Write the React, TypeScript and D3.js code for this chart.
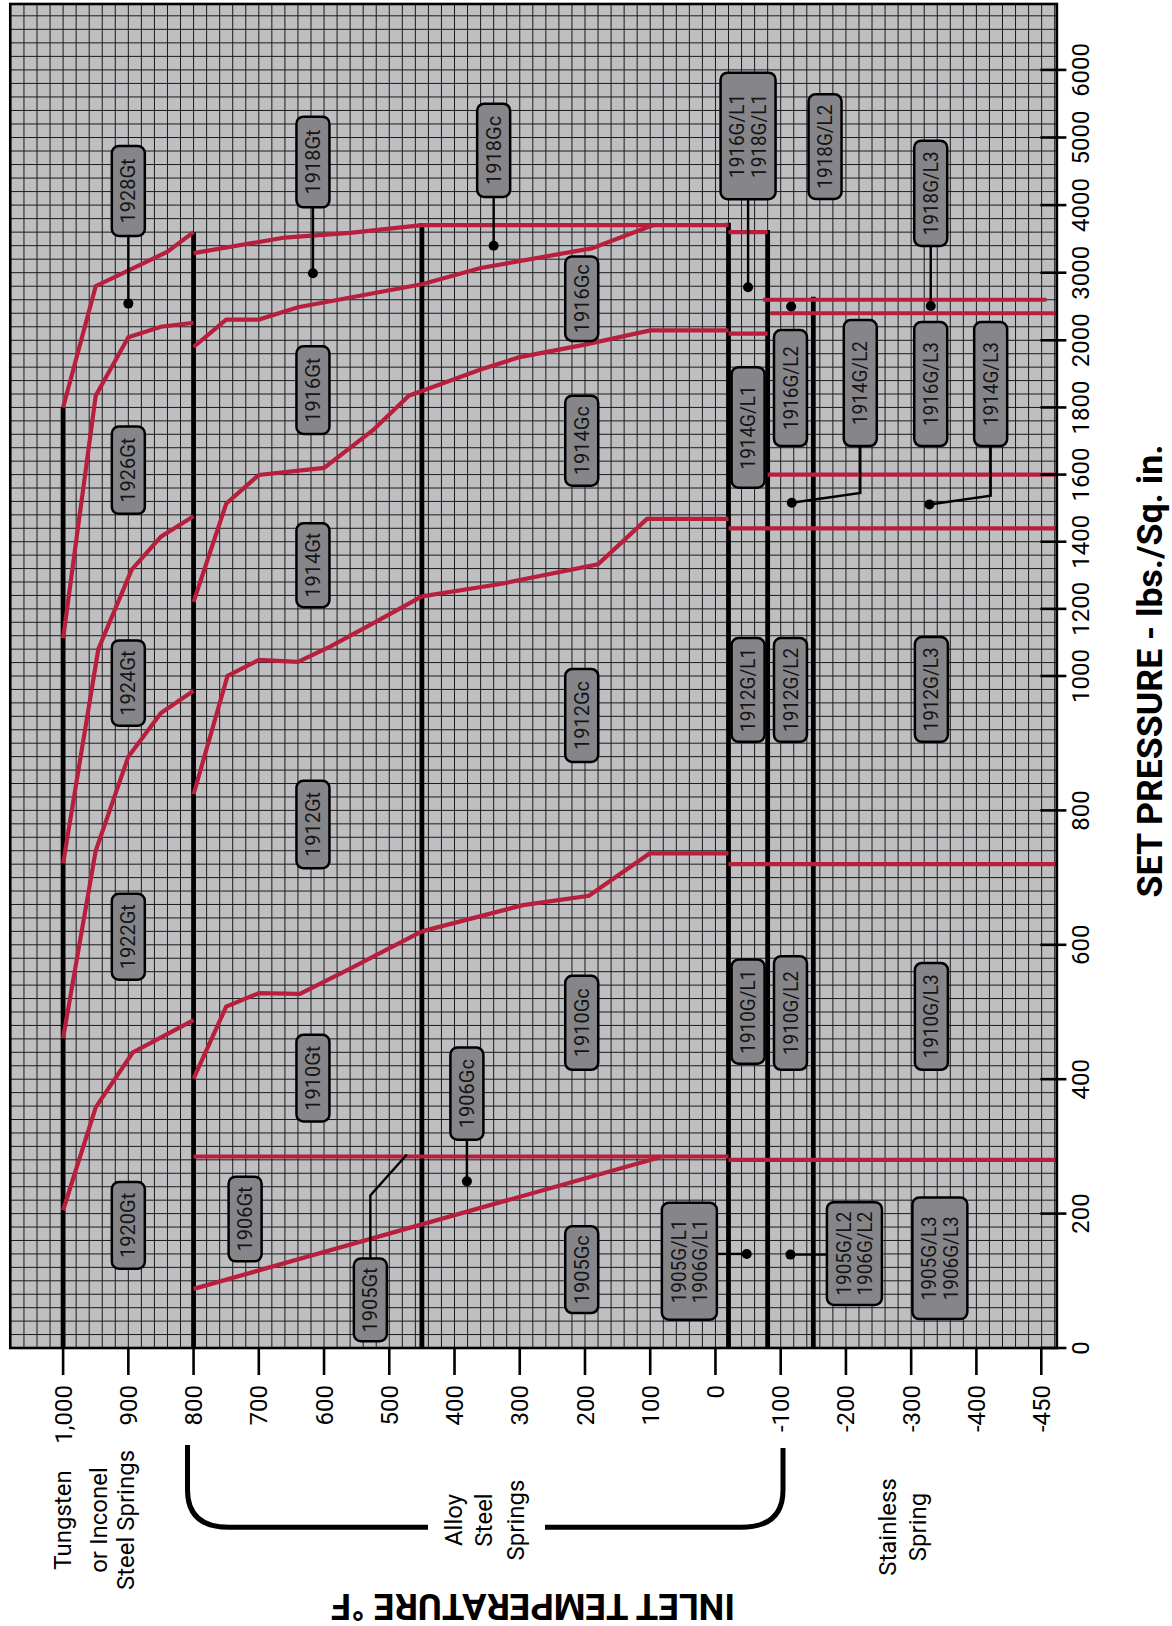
import React from "react";
import * as d3 from "d3";

// ---------- axis values ----------
const tempTicks = [1000, 900, 800, 700, 600, 500, 400, 300, 200, 100, 0, -100, -200, -300, -400, -450];
const tempTickLabels = ["1,000", "900", "800", "700", "600", "500", "400", "300", "200", "100", "0", "-100", "-200", "-300", "-400", "-450"];
const pressureTicks = [0, 200, 400, 600, 800, 1000, 1200, 1400, 1600, 1800, 2000, 3000, 4000, 5000, 6000];

// plot extent (temperature, psi)
const frameTemps = [1081, -462];
const framePressures = [0, 6975];

// ---------- spring limit lines (temperature, top psi) ----------
const springLimits = [
  { t: 1000, top: 1800 },
  { t: 800, top: 3600 },
  { t: 450, top: 3735 },
  { t: -20, top: 3740 },
  { t: -80, top: 3630 },
  { t: -150, top: 2645 },
];

// ---------- red curves: [temperature, psi] ----------
const tungstenCurves = [
  [[1000, 1800], [950, 2800], [840, 3310], [800, 3600]],
  [[1000, 1112], [950, 1835], [900, 2045], [850, 2200], [800, 2260]],
  [[1000, 721], [946, 1080], [895, 1316], [850, 1415], [800, 1476]],
  [[1000, 461], [950, 740], [900, 880], [850, 945], [800, 978]],
  [[1000, 205], [950, 358], [893, 440], [800, 488]],
];

const alloyGtCurves = [
  [[800, 3290], [660, 3520], [560, 3590], [450, 3705]],
  [[800, 1980], [750, 2307], [700, 2307], [640, 2490], [450, 2830]],
  [[800, 1221], [750, 1513], [700, 1599], [600, 1620], [525, 1732], [470, 1835], [450, 1849]],
  [[800, 824], [748, 1000], [700, 1048], [640, 1042], [590, 1088], [525, 1157], [450, 1237]],
  [[800, 401], [750, 508], [700, 528], [637, 527], [563, 563], [450, 620]],
];

const alloyGcCurves = [
  [[450, 3705], [-20, 3705]],
  [[450, 2830], [360, 3070], [190, 3360], [95, 3705]],
  [[450, 1849], [360, 1913], [300, 1950], [200, 1987], [100, 2146], [-20, 2146]],
  [[450, 1237], [330, 1274], [180, 1333], [105, 1468], [-20, 1468]],
  [[450, 620], [295, 659], [194, 673], [101, 736], [-20, 736]],
];

const cutoffLines = [
  [[800, 285], [-20, 285]],
  [[800, 88], [85, 284]],
];

// low temperature limits: [from temp, to temp, psi]
const lowTempLines = [
  [-20, -80, 3600],
  [-20, -80, 2100],
  [-73, -454, 2600],
  [-84, -462, 2400],
  [-80, -462, 1600],
  [-20, -462, 1440],
  [-20, -462, 720],
  [-20, -462, 280],
];

// ---------- model labels: centre temperature, top psi, bottom psi ----------
const modelLabels = [
  { lines: ["1928Gt"], t: 900, p0: 4874, p1: 3543 },
  { lines: ["1926Gt"], t: 900, p0: 1743, p1: 1483 },
  { lines: ["1924Gt"], t: 900, p0: 1106, p1: 926 },
  { lines: ["1922Gt"], t: 900, p0: 676, p1: 548 },
  { lines: ["1920Gt"], t: 900, p0: 247, p1: 118 },
  { lines: ["1918Gt"], t: 617, p0: 5308, p1: 3967 },
  { lines: ["1916Gt"], t: 617, p0: 1982, p1: 1721 },
  { lines: ["1914Gt"], t: 617, p0: 1455, p1: 1205 },
  { lines: ["1912Gt"], t: 617, p0: 844, p1: 714 },
  { lines: ["1910Gt"], t: 617, p0: 466, p1: 337 },
  { lines: ["1906Gt"], t: 721, p0: 255, p1: 129 },
  { lines: ["1905Gt"], t: 529, p0: 133, p1: 10 },
  { lines: ["1918Gc"], t: 340, p0: 5500, p1: 4120 },
  { lines: ["1916Gc"], t: 205, p0: 3241, p1: 1998 },
  { lines: ["1914Gc"], t: 205, p0: 1835, p1: 1567 },
  { lines: ["1912Gc"], t: 205, p0: 1021, p1: 872 },
  { lines: ["1910Gc"], t: 205, p0: 554, p1: 414 },
  { lines: ["1906Gc"], t: 381, p0: 447, p1: 310 },
  { lines: ["1905Gc"], t: 205, p0: 181, p1: 52 },
  { lines: ["1916G/L1", "1918G/L1"], t: -50, p0: 5959, p1: 4086 },
  { lines: ["1914G/L1"], t: -50, p0: 1920, p1: 1561 },
  { lines: ["1912G/L1"], t: -50, p0: 1113, p1: 902 },
  { lines: ["1910G/L1"], t: -50, p0: 578, p1: 423 },
  { lines: ["1905G/L1", "1906G/L1"], t: 40, p0: 216, p1: 42 },
  { lines: ["1918G/L2"], t: -168, p0: 5640, p1: 4090 },
  { lines: ["1916G/L2"], t: -115, p0: 2152, p1: 1685 },
  { lines: ["1914G/L2"], t: -222, p0: 2300, p1: 1685 },
  { lines: ["1912G/L2"], t: -115, p0: 1113, p1: 902 },
  { lines: ["1910G/L2"], t: -115, p0: 583, p1: 414 },
  { lines: ["1905G/L2", "1906G/L2"], t: -213, p0: 217, p1: 64 },
  { lines: ["1918G/L3"], t: -330, p0: 4953, p1: 3395 },
  { lines: ["1916G/L3"], t: -330, p0: 2271, p1: 1685 },
  { lines: ["1914G/L3"], t: -411, p0: 2271, p1: 1685 },
  { lines: ["1912G/L3"], t: -331, p0: 1116, p1: 902 },
  { lines: ["1910G/L3"], t: -331, p0: 573, p1: 414 },
  { lines: ["1905G/L3", "1906G/L3"], t: -344, p0: 224, p1: 43 },
];

// leader lines [temperature, psi]; dot at the last point when dot is true
const leaders = [
  { pts: [[900, 3543], [900, 2543]], dot: true },
  { pts: [[617, 3967], [617, 2991]], dot: true },
  { pts: [[340, 4120], [340, 3399]], dot: true },
  { pts: [[-50, 4086], [-50, 2784]], dot: true },
  { pts: [[381, 310], [381, 248]], dot: true },
  { pts: [[529, 133], [529, 227], [473, 288]], dot: false },
  { pts: [[-4, 140], [-48, 140]], dot: true },
  { pts: [[-222, 1685], [-222, 1545], [-117, 1516]], dot: true },
  { pts: [[-170, 139], [-115, 139]], dot: true },
  { pts: [[-330, 3395], [-330, 2507]], dot: true },
  { pts: [[-411, 1685], [-411, 1537], [-328, 1511]], dot: true },
  { pts: [[-116, 2500]], dot: true },
];

const RED = "#b71f3d";
const FONT = "Roboto, 'DejaVu Sans', sans-serif";

export default function App() {
  const x = d3.scaleLinear().domain([1000, -400, -450]).range([63.1, 976.4, 1041.3]);
  const y = d3.scaleLinear().domain([0, 1000, 2000, 6000]).range([1348, 676, 340.3, 69.9]);
  const paperX = d3.scaleLinear().domain([1000, -400]).range([63.1, 976.4]);

  const fx0 = x(frameTemps[0]);
  const fx1 = x(frameTemps[1]);
  const fy0 = y(framePressures[1]);
  const fy1 = y(framePressures[0]);

  const line = d3
    .line<number[]>()
    .x((d) => x(d[0]))
    .y((d) => y(d[1]));

  const gridTemps = d3.range(1080, -540, -20).map((t) => paperX(t)).filter((v) => v > fx0 + 1 && v < fx1 - 1);
  const gridPress = [...d3.range(0, 1000, 20), ...d3.range(1000, 2000, 40), ...d3.range(2000, 7000, 200)]
    .map((p) => y(p))
    .filter((v) => v > fy0 + 1 && v < fy1 - 1);

  const redCurves = [...tungstenCurves, ...alloyGtCurves, ...alloyGcCurves, ...cutoffLines];

  const boxFont = 20;

  return (
    <svg
      width={1172}
      height={1626}
      style={{ position: "absolute", left: 0, top: 0, background: "#fff" }}
      fontFamily={FONT}
    >
      {/* plot background */}
      <rect x={fx0} y={fy0} width={fx1 - fx0} height={fy1 - fy0} fill="#bfbfc1" />
      {/* grid */}
      <g stroke="#1b1b1b" strokeWidth={1}>
        {gridTemps.map((gx, i) => (
          <line key={"gv" + i} x1={gx} x2={gx} y1={fy0} y2={fy1} />
        ))}
        {gridPress.map((gy, i) => (
          <line key={"gh" + i} x1={fx0} x2={fx1} y1={gy} y2={gy} />
        ))}
      </g>

      {/* spring limit thick lines */}
      <g stroke="#000" strokeWidth={4.8}>
        {springLimits.map((s, i) => (
          <line key={"s" + i} x1={x(s.t)} x2={x(s.t)} y1={y(s.top)} y2={fy1} />
        ))}
      </g>

      {/* red curves */}
      <g stroke={RED} strokeWidth={4.2} fill="none" strokeLinejoin="miter">
        {redCurves.map((c, i) => (
          <path key={"c" + i} d={line(c) || ""} />
        ))}
        {lowTempLines.map((l, i) => (
          <line key={"l" + i} x1={x(l[0])} x2={x(l[1])} y1={y(l[2])} y2={y(l[2])} />
        ))}
      </g>

      {/* leaders */}
      <g stroke="#000" strokeWidth={2.4} fill="none">
        {leaders.map((l, i) =>
          l.pts.length > 1 ? <path key={"ld" + i} d={line(l.pts) || ""} /> : null
        )}
      </g>
      <g fill="#000">
        {leaders
          .filter((l) => l.dot)
          .map((l, i) => {
            const p = l.pts[l.pts.length - 1];
            return <circle key={"dt" + i} cx={x(p[0])} cy={y(p[1])} r={5} />;
          })}
      </g>

      {/* model label boxes */}
      {modelLabels.map((m, i) => {
        const cx = x(m.t);
        const yt = y(m.p0);
        const yb = y(m.p1);
        const cy = (yt + yb) / 2;
        const w = m.lines.length === 1 ? 33 : 55;
        const n = m.lines.length;
        return (
          <g key={"b" + i}>
            <rect x={cx - w / 2} y={yt} width={w} height={yb - yt} rx={7} ry={7} fill="#86868a" stroke="#000" strokeWidth={2.5} />
            {m.lines.map((s, j) => {
              const off = n === 1 ? 0 : (j - (n - 1) / 2) * 21.6;
              const bx = cx + off + boxFont * 0.355;
              return (
                <text
                  key={j}
                  transform={`translate(${bx},${cy}) rotate(-90)`}
                  textAnchor="middle"
                  fontSize={boxFont}
                  fill="#151515"
                  textLength={s.includes("/") ? 84 : undefined}
                  lengthAdjust="spacingAndGlyphs"
                >
                  {s}
                </text>
              );
            })}
          </g>
        );
      })}

      {/* frame */}
      <rect x={fx0} y={fy0} width={fx1 - fx0} height={fy1 - fy0} fill="none" stroke="#000" strokeWidth={2.6} />

      {/* temperature axis */}
      <g>
        {tempTicks.map((t, i) => (
          <g key={"tt" + i}>
            <line x1={x(t)} x2={x(t)} y1={fy1} y2={fy1 + 27} stroke="#000" strokeWidth={2.6} />
            <text
              transform={`translate(${x(t) + 24 * 0.355},${fy1 + 37}) rotate(-90)`}
              textAnchor="end"
              fontSize={24}
              fill="#000"
            >
              {tempTickLabels[i]}
            </text>
          </g>
        ))}
      </g>

      {/* pressure axis */}
      <g>
        {pressureTicks.map((p, i) => (
          <g key={"pt" + i}>
            <line x1={fx1 - 16.5} x2={fx1 + 9.5} y1={y(p)} y2={y(p)} stroke="#000" strokeWidth={2.6} />
            <text
              transform={`translate(${fx1 + 32},${y(p)}) rotate(-90)`}
              textAnchor="middle"
              fontSize={24}
              fill="#000"
            >
              {p}
            </text>
          </g>
        ))}
      </g>

      {/* axis titles */}
      <text
        transform={`translate(1162,671) rotate(-90)`}
        textAnchor="middle"
        fontSize={35}
        fontWeight="bold"
        textLength={453}
        lengthAdjust="spacingAndGlyphs"
        fill="#000"
      >
        SET PRESSURE - lbs./Sq. in.
      </text>
      <text
        transform={`translate(533,1594) rotate(180)`}
        textAnchor="middle"
        fontSize={36}
        fontWeight="bold"
        textLength={404}
        lengthAdjust="spacingAndGlyphs"
        fill="#000"
      >
        INLET TEMPERATURE °F
      </text>

      {/* spring group labels */}
      <g fontSize={24} fill="#000" textAnchor="middle">
        <text transform="translate(71,1520) rotate(-90)">Tungsten</text>
        <text transform="translate(107,1520) rotate(-90)">or Inconel</text>
        <text transform="translate(134,1520) rotate(-90)">Steel Springs</text>
        <text transform="translate(461.5,1520) rotate(-90)">Alloy</text>
        <text transform="translate(492,1520) rotate(-90)">Steel</text>
        <text transform="translate(524,1520) rotate(-90)">Springs</text>
        <text transform="translate(895.5,1527) rotate(-90)">Stainless</text>
        <text transform="translate(925.5,1527) rotate(-90)">Spring</text>
      </g>
      <path
        d="M187.5,1445 L187.5,1490 Q187.5,1527.3 229,1527.3 L428,1527.3 M545,1527.3 L741,1527.3 Q783,1527.3 783,1490 L783,1448"
        fill="none"
        stroke="#000"
        strokeWidth={5}
      />
    </svg>
  );
}
